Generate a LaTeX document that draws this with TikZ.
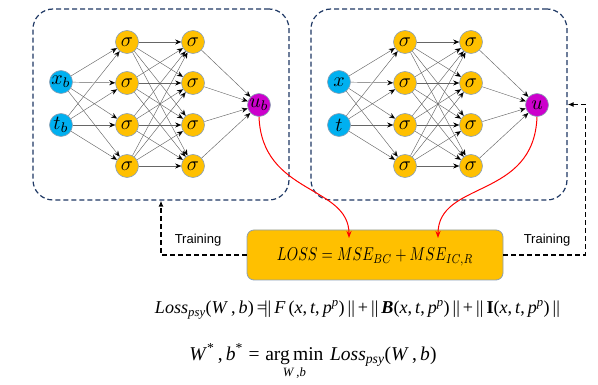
\documentclass[tikz,border=0pt]{standalone}
\usepackage{fontspec}
\usepackage{amsmath,amssymb,bm}
\usepackage{graphicx}
\usetikzlibrary{arrows.meta}
\newfontfamily\arialf{Liberation Sans}
\newfontfamily\tnr{Liberation Serif}
\newcommand\ti[1]{\textit{#1}}
\newcommand\nrm{\,||\,}
\definecolor{navy}{RGB}{31,56,100}
\definecolor{inblue}{RGB}{0,176,240}
\definecolor{hidor}{RGB}{255,192,0}
\definecolor{outmag}{RGB}{204,0,204}
\definecolor{nodeb}{RGB}{140,160,180}
\begin{document}
\begin{tikzpicture}[x=1pt,y=-1pt,
  nd/.style={circle,draw=nodeb,line width=0.6pt,minimum size=23pt,inner sep=0pt},
  inp/.style={nd,fill=inblue},
  hid/.style={nd,fill=hidor},
  outn/.style={nd,fill=outmag},
  edge/.style={draw=black!60,line width=0.45pt,-{Stealth[length=6pt,width=5pt,color=black]}},
  netbox/.style={draw=navy,line width=1.2pt,dash pattern=on 5pt off 3pt,rounded corners=20pt,minimum width=256pt,minimum height=191pt,inner sep=0pt},
  redarr/.style={draw=red,line width=1pt,-{Stealth[length=7pt,width=5pt]}},
  train/.style={draw=black,line width=1.8pt,dash pattern=on 5pt off 3pt,-{Latex[length=6pt,width=5pt]}},
  lossbox/.style={draw=nodeb,line width=0.8pt,fill=hidor,rounded corners=7pt,minimum width=256pt,minimum height=50pt,inner sep=0pt},
  trlab/.style={font=\arialf\fontsize{13}{13}\selectfont}
]
\useasboundingbox (0,0) rectangle (598,385);
\node[netbox] (lbox) at (161,104.5) {};
\node[netbox] (rbox) at (439,104.5) {};
\foreach \p/\dx/\ia/\ib/\oo in {L/0/x_b/t_b/u_b, R/278/x/t/u}{
  \node[inp] (\p-i1) at (61+\dx,82) {\scalebox{2}{$\ia$}};
  \node[inp] (\p-i2) at (61+\dx,125) {\scalebox{2}{$\ib$}};
  \foreach \k/\yy in {1/42,2/83,3/125,4/166}{
    \node[hid] (\p-a\k) at (127+\dx,\yy) {\scalebox{2}{$\sigma$}};
    \node[hid] (\p-b\k) at (193+\dx,\yy) {\scalebox{2}{$\sigma$}};
  }
  \node[outn] (\p-o) at (259+\dx,105) {\scalebox{2}{$\oo$}};
  \foreach \k in {1,...,4}{
    \foreach \i in {1,2}{\draw[edge] (\p-i\i) -- (\p-a\k);}
    \foreach \j in {1,...,4}{\draw[edge] (\p-a\j) -- (\p-b\k);}
    \draw[edge] (\p-b\k) -- (\p-o);
  }
}
\node[lossbox] (loss) at (375,255) {};
\node[inner sep=0pt] (losstxt) at (375,257) {\resizebox*{196pt}{18pt}{$LOSS = MSE_{BC} + MSE_{IC,R}$}};
\coordinate (ta) at (349,238);
\coordinate (tb) at (438,238);
\draw[redarr] (L-o.south) .. controls (262,195) and (349,185) .. (ta);
\draw[redarr] (R-o.south) .. controls (534,200) and (438,180) .. (tb);
\draw[train] (loss.west) -| (lbox.south);
\draw[train] (loss.east) -- ++(82,0) |- (rbox.east);
\node[trlab] (tl) at (198,240) {Training};
\node[trlab] (tr) at (547,240) {Training};
\node[inner sep=0pt] (f1) at (359,310) {\resizebox{408pt}{!}{\tnr\fontsize{20}{22}\selectfont
  \ti{Loss}\textsubscript{\ti{psy}}(\ti{W}\,,\,\ti{b})\,=\!||\,\ti{F}\,(\ti{x},\,\ti{t},\,\ti{p}\textsuperscript{\ti{p}})\nrm+\nrm\textbf{\textit{B}}(\ti{x},\,\ti{t},\,\ti{p}\textsuperscript{\ti{p}})\nrm+\nrm\textbf{I}(\ti{x},\,\ti{t},\,\ti{p}\textsuperscript{\ti{p}})\nrm}};
\node[inner sep=0pt] (f2) at (313,362) {\resizebox{247pt}{!}{\tnr\fontsize{20}{22}\selectfont
  $\text{\ti{W}\textsuperscript{*}\,,\,\ti{b}\textsuperscript{*}}\mathrel{\text{=}}\mathop{\text{arg\,min}}\limits_{\text{\fontsize{13}{13}\selectfont\ti{W}\,,\ti{b}}}\text{\,\ti{Loss}\textsubscript{\ti{psy}}(\ti{W}\,,\,\ti{b})}$}};
\end{tikzpicture}
\end{document}
